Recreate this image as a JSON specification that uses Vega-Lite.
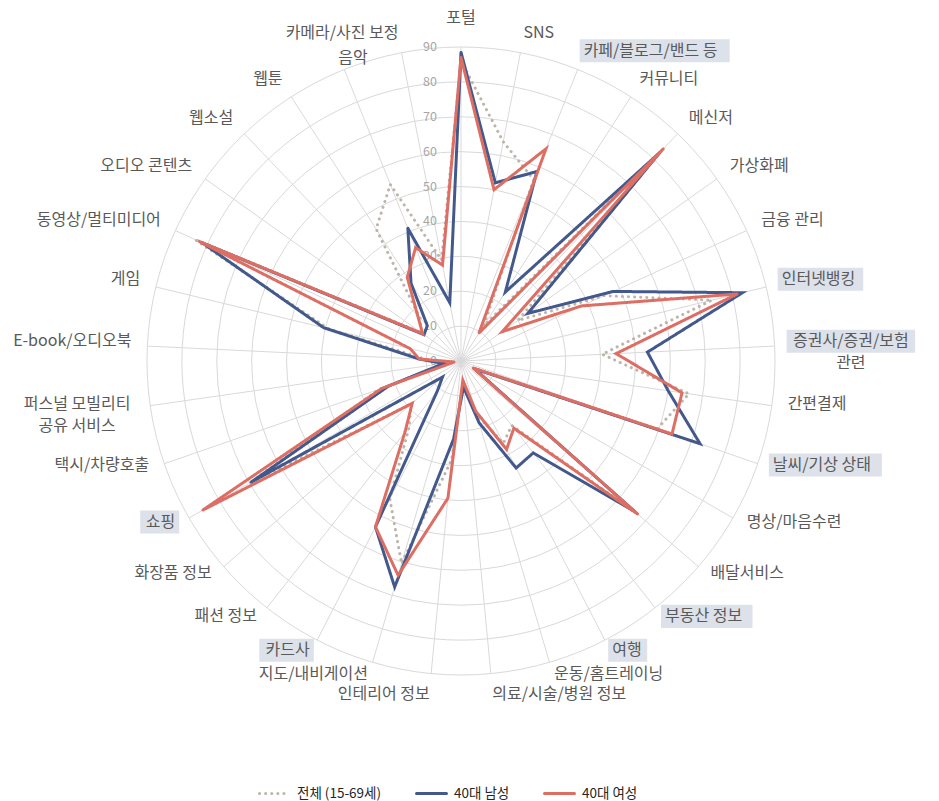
{
  "$schema": "https://vega.github.io/schema/vega-lite/v6.json",
  "width": 939,
  "height": 801,
  "autosize": {"type": "none"},
  "padding": 0,
  "background": "white",
  "config": {
    "view": {"stroke": null},
    "font": "Noto Sans CJK KR",
    "text": {"font": "Noto Sans CJK KR", "fontSize": 16, "color": "#595959", "lineBreak": "\n", "lineHeight": 22},
    "legend": {
      "orient": "none",
      "legendX": 258,
      "legendY": 777,
      "direction": "horizontal",
      "padding": 0,
      "symbolType": "stroke",
      "symbolSize": 900,
      "symbolStrokeWidth": 3,
      "labelFontSize": 13.5,
      "labelColor": "#262626",
      "labelFont": "Noto Sans CJK KR",
      "labelOffset": 6,
      "columnPadding": 28
    }
  },
  "datasets": {
    "rings": [{"lv": 0}, {"lv": 10}, {"lv": 20}, {"lv": 30}, {"lv": 40}, {"lv": 50}, {"lv": 60}, {"lv": 70}, {"lv": 80}, {"lv": 90}],
    "cats": [
      {"i": 0, "label": "포털", "hl": false},
      {"i": 1, "label": "SNS", "hl": false},
      {"i": 2, "label": "카페/블로그/밴드 등", "hl": true},
      {"i": 3, "label": "커뮤니티", "hl": false},
      {"i": 4, "label": "메신저", "hl": false},
      {"i": 5, "label": "가상화폐", "hl": false},
      {"i": 6, "label": "금융 관리", "hl": false},
      {"i": 7, "label": "인터넷뱅킹", "hl": true},
      {"i": 8, "label": "증권사/증권/보험\n관련", "hl": true},
      {"i": 9, "label": "간편결제", "hl": false},
      {"i": 10, "label": "날씨/기상 상태", "hl": true},
      {"i": 11, "label": "명상/마음수련", "hl": false},
      {"i": 12, "label": "배달서비스", "hl": false},
      {"i": 13, "label": "부동산 정보", "hl": true},
      {"i": 14, "label": "여행", "hl": true},
      {"i": 15, "label": "운동/홈트레이닝", "hl": false},
      {"i": 16, "label": "의료/시술/병원 정보", "hl": false},
      {"i": 17, "label": "인테리어 정보", "hl": false},
      {"i": 18, "label": "지도/내비게이션", "hl": false},
      {"i": 19, "label": "카드사", "hl": true},
      {"i": 20, "label": "패션 정보", "hl": false},
      {"i": 21, "label": "화장품 정보", "hl": false},
      {"i": 22, "label": "쇼핑", "hl": true},
      {"i": 23, "label": "택시/차량호출", "hl": false},
      {"i": 24, "label": "퍼스널 모빌리티\n공유 서비스", "hl": false},
      {"i": 25, "label": "E-book/오디오북", "hl": false},
      {"i": 26, "label": "게임", "hl": false},
      {"i": 27, "label": "동영상/멀티미디어", "hl": false},
      {"i": 28, "label": "오디오 콘텐츠", "hl": false},
      {"i": 29, "label": "웹소설", "hl": false},
      {"i": 30, "label": "웹툰", "hl": false},
      {"i": 31, "label": "음악", "hl": false},
      {"i": 32, "label": "카메라/사진 보정", "hl": false}
    ],
    "pts": [
      {"i": 0, "s": "전체 (15-69세)", "v": 86}, {"i": 1, "s": "전체 (15-69세)", "v": 64}, {"i": 2, "s": "전체 (15-69세)", "v": 56}, {"i": 3, "s": "전체 (15-69세)", "v": 12}, {"i": 4, "s": "전체 (15-69세)", "v": 83}, {"i": 5, "s": "전체 (15-69세)", "v": 20}, {"i": 6, "s": "전체 (15-69세)", "v": 45}, {"i": 7, "s": "전체 (15-69세)", "v": 74}, {"i": 8, "s": "전체 (15-69세)", "v": 40.5}, {"i": 9, "s": "전체 (15-69세)", "v": 66}, {"i": 10, "s": "전체 (15-69세)", "v": 59.5}, {"i": 11, "s": "전체 (15-69세)", "v": 4}, {"i": 12, "s": "전체 (15-69세)", "v": 66}, {"i": 13, "s": "전체 (15-69세)", "v": 23.5}, {"i": 14, "s": "전체 (15-69세)", "v": 26.5}, {"i": 15, "s": "전체 (15-69세)", "v": 16}, {"i": 16, "s": "전체 (15-69세)", "v": 6}, {"i": 17, "s": "전체 (15-69세)", "v": 28.5}, {"i": 18, "s": "전체 (15-69세)", "v": 60.5}, {"i": 19, "s": "전체 (15-69세)", "v": 44.5}, {"i": 20, "s": "전체 (15-69세)", "v": 24}, {"i": 21, "s": "전체 (15-69세)", "v": 19}, {"i": 22, "s": "전체 (15-69세)", "v": 70}, {"i": 23, "s": "전체 (15-69세)", "v": 25}, {"i": 24, "s": "전체 (15-69세)", "v": 4}, {"i": 25, "s": "전체 (15-69세)", "v": 10}, {"i": 26, "s": "전체 (15-69세)", "v": 39}, {"i": 27, "s": "전체 (15-69세)", "v": 84}, {"i": 28, "s": "전체 (15-69세)", "v": 14}, {"i": 29, "s": "전체 (15-69세)", "v": 17}, {"i": 30, "s": "전체 (15-69세)", "v": 45}, {"i": 31, "s": "전체 (15-69세)", "v": 54.5}, {"i": 32, "s": "전체 (15-69세)", "v": 29.5},
      {"i": 0, "s": "40대 남성", "v": 88.5}, {"i": 1, "s": "40대 남성", "v": 52}, {"i": 2, "s": "40대 남성", "v": 58.5}, {"i": 3, "s": "40대 남성", "v": 23.5}, {"i": 4, "s": "40대 남성", "v": 82.5}, {"i": 5, "s": "40대 남성", "v": 23.5}, {"i": 6, "s": "40대 남성", "v": 48}, {"i": 7, "s": "40대 남성", "v": 83}, {"i": 8, "s": "40대 남성", "v": 53.5}, {"i": 9, "s": "40대 남성", "v": 60}, {"i": 10, "s": "40대 남성", "v": 72.5}, {"i": 11, "s": "40대 남성", "v": 4.5}, {"i": 12, "s": "40대 남성", "v": 66}, {"i": 13, "s": "40대 남성", "v": 33.5}, {"i": 14, "s": "40대 남성", "v": 34.5}, {"i": 15, "s": "40대 남성", "v": 18.5}, {"i": 16, "s": "40대 남성", "v": 7.5}, {"i": 17, "s": "40대 남성", "v": 22.5}, {"i": 18, "s": "40대 남성", "v": 67.5}, {"i": 19, "s": "40대 남성", "v": 53.5}, {"i": 20, "s": "40대 남성", "v": 11}, {"i": 21, "s": "40대 남성", "v": 7}, {"i": 22, "s": "40대 남성", "v": 69.5}, {"i": 23, "s": "40대 남성", "v": 22}, {"i": 24, "s": "40대 남성", "v": 5}, {"i": 25, "s": "40대 남성", "v": 12}, {"i": 26, "s": "40대 남성", "v": 40.5}, {"i": 27, "s": "40대 남성", "v": 81.5}, {"i": 28, "s": "40대 남성", "v": 13}, {"i": 29, "s": "40대 남성", "v": 14}, {"i": 30, "s": "40대 남성", "v": 26.5}, {"i": 31, "s": "40대 남성", "v": 41}, {"i": 32, "s": "40대 남성", "v": 17},
      {"i": 0, "s": "40대 여성", "v": 87}, {"i": 1, "s": "40대 여성", "v": 50}, {"i": 2, "s": "40대 여성", "v": 65.5}, {"i": 3, "s": "40대 여성", "v": 9.5}, {"i": 4, "s": "40대 여성", "v": 84}, {"i": 5, "s": "40대 여성", "v": 14.5}, {"i": 6, "s": "40대 여성", "v": 38}, {"i": 7, "s": "40대 여성", "v": 81.5}, {"i": 8, "s": "40대 여성", "v": 44.5}, {"i": 9, "s": "40대 여성", "v": 64}, {"i": 10, "s": "40대 여성", "v": 64}, {"i": 11, "s": "40대 여성", "v": 4}, {"i": 12, "s": "40대 여성", "v": 67}, {"i": 13, "s": "40대 여성", "v": 24.5}, {"i": 14, "s": "40대 여성", "v": 28.5}, {"i": 15, "s": "40대 여성", "v": 15}, {"i": 16, "s": "40대 여성", "v": 5.5}, {"i": 17, "s": "40대 여성", "v": 39.5}, {"i": 18, "s": "40대 여성", "v": 64}, {"i": 19, "s": "40대 여성", "v": 53.5}, {"i": 20, "s": "40대 여성", "v": 26}, {"i": 21, "s": "40대 여성", "v": 18.5}, {"i": 22, "s": "40대 여성", "v": 85.5}, {"i": 23, "s": "40대 여성", "v": 24}, {"i": 24, "s": "40대 여성", "v": 2}, {"i": 25, "s": "40대 여성", "v": 12}, {"i": 26, "s": "40대 여성", "v": 15}, {"i": 27, "s": "40대 여성", "v": 82.5}, {"i": 28, "s": "40대 여성", "v": 13.5}, {"i": 29, "s": "40대 여성", "v": 18}, {"i": 30, "s": "40대 여성", "v": 28.5}, {"i": 31, "s": "40대 여성", "v": 35}, {"i": 32, "s": "40대 여성", "v": 28}
    ]
  },
  "layer": [
    {
      "data": {"name": "rings"},
      "transform": [{"filter": "datum.lv > 0"}, {"calculate": "0", "as": "z"}],
      "mark": {"type": "point", "shape": "circle", "filled": false, "stroke": "#d9d9d9", "strokeWidth": 1, "opacity": 1},
      "encoding": {
        "x": {"field": "z", "type": "quantitative", "scale": {"domain": [-132.13, 137.0], "nice": false, "zero": false}, "axis": null},
        "y": {"field": "z", "type": "quantitative", "scale": {"domain": [-126.11, 103.47], "nice": false, "zero": false}, "axis": null},
        "size": {"field": "lv", "type": "quantitative", "scale": {"type": "pow", "exponent": 2, "domain": [0, 90], "range": [0, 394400]}, "legend": null}
      }
    },
    {
      "data": {"name": "cats"},
      "transform": [
        {"calculate": "0", "as": "z"},
        {"calculate": "datum.i * 2 * PI / 33", "as": "a"},
        {"calculate": "90 * sin(datum.a)", "as": "sx"},
        {"calculate": "90 * cos(datum.a)", "as": "sy"}
      ],
      "mark": {"type": "rule", "stroke": "#d9d9d9", "strokeWidth": 1},
      "encoding": {
        "x": {"field": "z", "type": "quantitative"},
        "y": {"field": "z", "type": "quantitative"},
        "x2": {"field": "sx"},
        "y2": {"field": "sy"}
      }
    },
    {
      "data": {"name": "rings"},
      "transform": [{"calculate": "0", "as": "z"}],
      "mark": {"type": "text", "align": "right", "baseline": "middle", "dx": -24, "fontSize": 12.5, "color": "#a6a6a6"},
      "encoding": {
        "x": {"field": "z", "type": "quantitative"},
        "y": {"field": "lv", "type": "quantitative"},
        "text": {"field": "lv", "type": "quantitative"}
      }
    },
    {
      "data": {"name": "cats"},
      "transform": [
        {"filter": "datum.hl"},
        {"calculate": "datum.i * 2 * PI / 33", "as": "a"},
        {"calculate": "94.58 * sin(datum.a)", "as": "lx"},
        {"calculate": "94.58 * cos(datum.a)", "as": "ly"},
        {"calculate": "split(datum.label, '\\n')[0]", "as": "first"},
        {"calculate": "length(split(datum.first, '/')) - 1 + length(split(datum.first, ' ')) - 1", "as": "oc"},
        {"calculate": "((length(datum.first) - datum.oc) * 15.5 + datum.oc * 6 + 8) / 3.489", "as": "w"},
        {"calculate": "datum.i <= 16 ? datum.lx - 4 / 3.489 : datum.lx - datum.w + 4 / 3.489", "as": "bx1"},
        {"calculate": "datum.bx1 + datum.w", "as": "bx2"},
        {"calculate": "datum.ly + 1.15 - 3.3", "as": "by1"},
        {"calculate": "datum.ly + 1.15 + 3.3", "as": "by2"}
      ],
      "mark": {"type": "rect", "color": "#dde1ea"},
      "encoding": {
        "x": {"field": "bx1", "type": "quantitative"},
        "x2": {"field": "bx2"},
        "y": {"field": "by1", "type": "quantitative"},
        "y2": {"field": "by2"}
      }
    },
    {
      "data": {"name": "cats"},
      "transform": [
        {"filter": "datum.i == 0"},
        {"calculate": "datum.i * 2 * PI / 33", "as": "a"},
        {"calculate": "94.58 * sin(datum.a)", "as": "lx"},
        {"calculate": "94.58 * cos(datum.a)", "as": "ly"}
      ],
      "mark": {"type": "text", "align": "center", "baseline": "bottom", "dy": -5},
      "encoding": {
        "x": {"field": "lx", "type": "quantitative"},
        "y": {"field": "ly", "type": "quantitative"},
        "text": {"field": "label"}
      }
    },
    {
      "data": {"name": "cats"},
      "transform": [
        {"filter": "datum.i >= 1 && datum.i <= 15 && datum.i != 8"},
        {"calculate": "datum.i * 2 * PI / 33", "as": "a"},
        {"calculate": "94.58 * sin(datum.a)", "as": "lx"},
        {"calculate": "94.58 * cos(datum.a)", "as": "ly"}
      ],
      "mark": {"type": "text", "align": "left", "baseline": "middle", "dy": -4},
      "encoding": {
        "x": {"field": "lx", "type": "quantitative"},
        "y": {"field": "ly", "type": "quantitative"},
        "text": {"field": "label"}
      }
    },
    {
      "data": {"name": "cats"},
      "transform": [
        {"filter": "datum.i == 16"},
        {"calculate": "datum.i * 2 * PI / 33", "as": "a"},
        {"calculate": "94.58 * sin(datum.a)", "as": "lx"},
        {"calculate": "94.58 * cos(datum.a)", "as": "ly"}
      ],
      "mark": {"type": "text", "align": "left", "baseline": "middle", "dy": 5},
      "encoding": {
        "x": {"field": "lx", "type": "quantitative"},
        "y": {"field": "ly", "type": "quantitative"},
        "text": {"field": "label"}
      }
    },
    {
      "data": {"name": "cats"},
      "transform": [
        {"filter": "datum.i == 31"},
        {"calculate": "datum.i * 2 * PI / 33", "as": "a"},
        {"calculate": "94.58 * sin(datum.a)", "as": "lx"},
        {"calculate": "94.58 * cos(datum.a)", "as": "ly"}
      ],
      "mark": {"type": "text", "align": "left", "baseline": "middle", "dy": 3},
      "encoding": {
        "x": {"field": "lx", "type": "quantitative"},
        "y": {"field": "ly", "type": "quantitative"},
        "text": {"field": "label"}
      }
    },
    {
      "data": {"name": "cats"},
      "transform": [
        {"filter": "datum.i == 17"},
        {"calculate": "datum.i * 2 * PI / 33", "as": "a"},
        {"calculate": "94.58 * sin(datum.a)", "as": "lx"},
        {"calculate": "94.58 * cos(datum.a)", "as": "ly"}
      ],
      "mark": {"type": "text", "align": "right", "baseline": "middle", "dy": 5},
      "encoding": {
        "x": {"field": "lx", "type": "quantitative"},
        "y": {"field": "ly", "type": "quantitative"},
        "text": {"field": "label"}
      }
    },
    {
      "data": {"name": "cats"},
      "transform": [
        {"filter": "datum.i >= 18 && datum.i != 24 && datum.i != 31"},
        {"calculate": "datum.i * 2 * PI / 33", "as": "a"},
        {"calculate": "94.58 * sin(datum.a)", "as": "lx"},
        {"calculate": "94.58 * cos(datum.a)", "as": "ly"}
      ],
      "mark": {"type": "text", "align": "right", "baseline": "middle", "dy": -4},
      "encoding": {
        "x": {"field": "lx", "type": "quantitative"},
        "y": {"field": "ly", "type": "quantitative"},
        "text": {"field": "label"}
      }
    },
    {
      "data": {"name": "cats"},
      "transform": [
        {"filter": "datum.i == 8 || datum.i == 24"},
        {"calculate": "datum.i * 2 * PI / 33", "as": "a"},
        {"calculate": "94.58 * sin(datum.a)", "as": "lx"},
        {"calculate": "94.58 * cos(datum.a)", "as": "ly"},
        {"calculate": "split(datum.label, '\\n')[0]", "as": "first"},
        {"calculate": "length(split(datum.first, '/')) - 1 + length(split(datum.first, ' ')) - 1", "as": "oc"},
        {"calculate": "((length(datum.first) - datum.oc) * 15.5 + datum.oc * 6) / 3.489", "as": "w"},
        {"calculate": "datum.i <= 16 ? datum.lx + datum.w / 2 : datum.lx - datum.w / 2", "as": "cx"}
      ],
      "mark": {"type": "text", "align": "center", "baseline": "middle", "dy": -4},
      "encoding": {
        "x": {"field": "cx", "type": "quantitative"},
        "y": {"field": "ly", "type": "quantitative"},
        "text": {"field": "label"}
      }
    },
    {
      "data": {"name": "pts"},
      "transform": [
        {"calculate": "datum.i * 2 * PI / 33", "as": "a"},
        {"calculate": "datum.v * sin(datum.a)", "as": "px"},
        {"calculate": "datum.v * cos(datum.a)", "as": "py"}
      ],
      "mark": {"type": "line", "interpolate": "linear-closed", "strokeWidth": 3, "strokeCap": "round"},
      "encoding": {
        "x": {"field": "px", "type": "quantitative"},
        "y": {"field": "py", "type": "quantitative"},
        "order": {"field": "i", "type": "quantitative"},
        "color": {
          "field": "s", "type": "nominal", "title": null,
          "scale": {"domain": ["전체 (15-69세)", "40대 남성", "40대 여성"], "range": ["#bdb5ab", "#44598b", "#dd6e64"]},
          "legend": {"encode": {"symbols": {"update": {"strokeCap": {"value": "round"}}}}}
        },
        "strokeDash": {
          "field": "s", "type": "nominal", "title": null,
          "scale": {"domain": ["전체 (15-69세)", "40대 남성", "40대 여성"], "range": [[0.1, 6], [1, 0], [1, 0]]}
        }
      }
    }
  ]
}
